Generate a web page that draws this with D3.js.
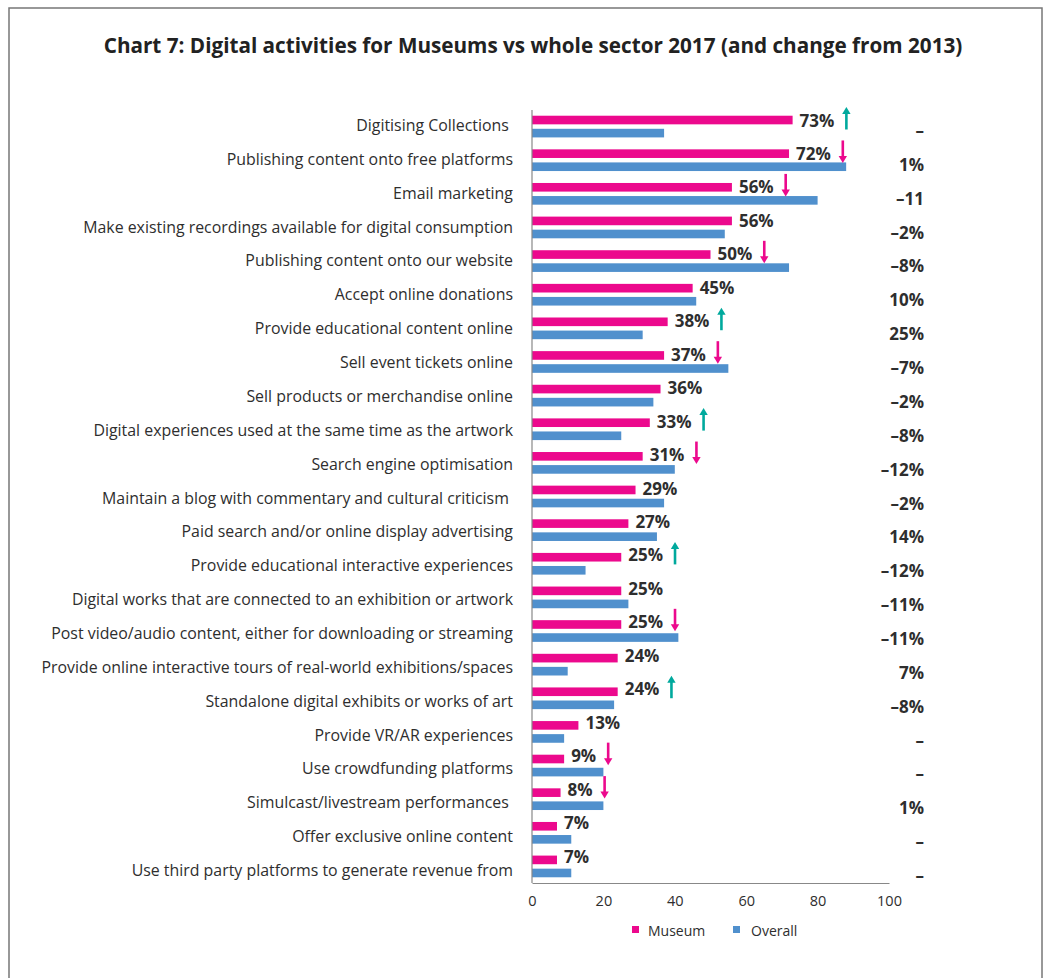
<!DOCTYPE html>
<html>
<head>
<meta charset="utf-8">
<script src="https://cdn.jsdelivr.net/npm/d3@7"></script>
<style>
  html, body { margin: 0; padding: 0; background: #fff; }
  svg { display: block; }
  text { font-family: "Open Sans", "Noto Sans", sans-serif; }
</style>
</head>
<body>
<svg id="chart" width="1048" height="978"></svg>
<script>
// ---- Data ----
const title = "Chart 7: Digital activities for Museums vs whole sector 2017 (and change from 2013)";
const categories = [
  "Digitising Collections ",
  "Publishing content onto free platforms",
  "Email marketing",
  "Make existing recordings available for digital consumption",
  "Publishing content onto our website",
  "Accept online donations",
  "Provide educational content online",
  "Sell event tickets online",
  "Sell products or merchandise online",
  "Digital experiences used at the same time as the artwork",
  "Search engine optimisation",
  "Maintain a blog with commentary and cultural criticism ",
  "Paid search and/or online display advertising",
  "Provide educational interactive experiences",
  "Digital works that are connected to an exhibition or artwork",
  "Post video/audio content, either for downloading or streaming",
  "Provide online interactive tours of real-world exhibitions/spaces",
  "Standalone digital exhibits or works of art",
  "Provide VR/AR experiences",
  "Use crowdfunding platforms",
  "Simulcast/livestream performances ",
  "Offer exclusive online content",
  "Use third party platforms to generate revenue from"
];
const museumValues = [73, 72, 56, 56, 50, 45, 38, 37, 36, 33, 31, 29, 27, 25, 25, 25, 24, 24, 13, 9, 8, 7, 7];
const overallValues = [37, 88, 80, 54, 72, 46, 31, 55, 34, 25, 40, 37, 35, 15, 27, 41, 10, 23, 9, 20, 20, 11, 11];
// arrow vs overall: "up", "down" or "" (none)
const arrows = ["up", "down", "down", "", "down", "", "up", "down", "", "up", "down", "", "", "up", "", "down", "", "up", "", "down", "down", "", ""];
const changeLabels = ["–", "1%", "–11", "–2%", "–8%", "10%", "25%", "–7%", "–2%", "–8%", "–12%", "–2%", "14%", "–12%", "–11%", "–11%", "7%", "–8%", "–", "–", "1%", "–", "–"];
const seriesNames = ["Museum", "Overall"];
const xTicks = [0, 20, 40, 60, 80, 100];

// ---- Styles ----
const colors = { Museum: "#EC098D", Overall: "#5090CD" };
const upColor = "#00A99D";
const downColor = "#EC098D";
const textColor = "#2e2e2e";

const svg = d3.select("#chart");

// frame
svg.append("rect")
  .attr("x", 9).attr("y", 8)
  .attr("width", 1033).attr("height", 990)
  .attr("fill", "none").attr("stroke", "#777").attr("stroke-width", 1.5);

// title
svg.append("text")
  .attr("x", 533).attr("y", 45)
  .attr("text-anchor", "middle").attr("dominant-baseline", "central")
  .attr("font-size", 20.7).attr("font-weight", 700).attr("fill", "#222")
  .text(title);

const x = d3.scaleLinear().domain([0, 100]).range([532, 889]);
const y = d3.scaleBand().domain(categories).range([110, 883])
  .paddingInner(0.355).paddingOuter(0.17);
const ySub = d3.scaleBand().domain(seriesNames).range([0, y.bandwidth()]).paddingInner(0.34);
// text rows in the original run on a slightly different pitch than the bars
const yCatLabel = d3.scalePoint().domain(categories).range([125, 870]);
const yValLabel = d3.scalePoint().domain(categories).range([120, 856]);
const yChange = d3.scalePoint().domain(categories).range([130.5, 875.5]);

const rows = categories.map((c, i) => ({
  cat: c, museum: museumValues[i], overall: overallValues[i],
  arrow: arrows[i], change: changeLabels[i]
}));

// category labels
svg.append("g").selectAll("text").data(rows).join("text")
  .attr("x", 513)
  .attr("y", d => yCatLabel(d.cat))
  .attr("text-anchor", "end").attr("dominant-baseline", "central")
  .attr("font-size", 15.9).attr("fill", textColor)
  .style("white-space", "pre")
  .text(d => d.cat);

// bars
const bars = svg.append("g");
seriesNames.forEach(s => {
  bars.selectAll("rect." + s).data(rows).join("rect")
    .attr("class", s)
    .attr("x", x(0))
    .attr("y", d => y(d.cat) + ySub(s))
    .attr("width", d => x(s === "Museum" ? d.museum : d.overall) - x(0))
    .attr("height", ySub.bandwidth())
    .attr("fill", colors[s]);
});

// axes
svg.append("line")
  .attr("x1", x(0)).attr("x2", x(0)).attr("y1", 110).attr("y2", 883)
  .attr("stroke", "#888").attr("stroke-width", 1.2);
const xAxis = svg.append("g").attr("transform", "translate(0,883)")
  .call(d3.axisBottom(x).tickValues(xTicks).tickSize(0).tickPadding(13));
xAxis.select(".domain").attr("stroke", "#888").attr("stroke-width", 1.2);
xAxis.selectAll("text").attr("font-size", 14.5).attr("fill", textColor)
  .attr("font-family", '"Open Sans", "Noto Sans", sans-serif');

// museum value labels + arrows
const lab = svg.append("g");
rows.forEach(d => {
  const cy = yValLabel(d.cat);
  const t = lab.append("text")
    .attr("x", x(d.museum) + 7).attr("y", cy)
    .attr("dominant-baseline", "central")
    .attr("font-size", 17).attr("font-weight", 700).attr("fill", textColor)
    .text(d.museum + "%");
  if (d.arrow) {
    const w = t.node().getComputedTextLength();
    const ax = x(d.museum) + 7 + w + 12;
    const col = d.arrow === "up" ? upColor : downColor;
    const top = cy - 13, bot = cy + 9.5;
    const g = lab.append("g");
    if (d.arrow === "up") {
      g.append("line").attr("x1", ax).attr("x2", ax).attr("y1", top + 6).attr("y2", bot)
        .attr("stroke", col).attr("stroke-width", 2.6);
      g.append("path").attr("d", `M${ax - 4.2},${top + 7} L${ax},${top} L${ax + 4.2},${top + 7} Z`).attr("fill", col);
    } else {
      g.append("line").attr("x1", ax).attr("x2", ax).attr("y1", top).attr("y2", bot - 6)
        .attr("stroke", col).attr("stroke-width", 2.6);
      g.append("path").attr("d", `M${ax - 4.2},${bot - 7} L${ax},${bot} L${ax + 4.2},${bot - 7} Z`).attr("fill", col);
    }
  }
});

// change column
svg.append("g").selectAll("text").data(rows).join("text")
  .attr("x", 924)
  .attr("y", d => yChange(d.cat))
  .attr("text-anchor", "end").attr("dominant-baseline", "central")
  .attr("font-size", 17).attr("font-weight", 700).attr("fill", textColor)
  .text(d => d.change);

// legend
const legend = svg.append("g");
const legendItems = [{ name: "Museum", sx: 632, tx: 648 }, { name: "Overall", sx: 733, tx: 751 }];
legendItems.forEach(li => {
  legend.append("rect").attr("x", li.sx).attr("y", 926).attr("width", 7).attr("height", 7)
    .attr("fill", colors[li.name]);
  legend.append("text").attr("x", li.tx).attr("y", 930).attr("dominant-baseline", "central")
    .attr("font-size", 14).attr("fill", textColor).text(li.name);
});
</script>
</body>
</html>
